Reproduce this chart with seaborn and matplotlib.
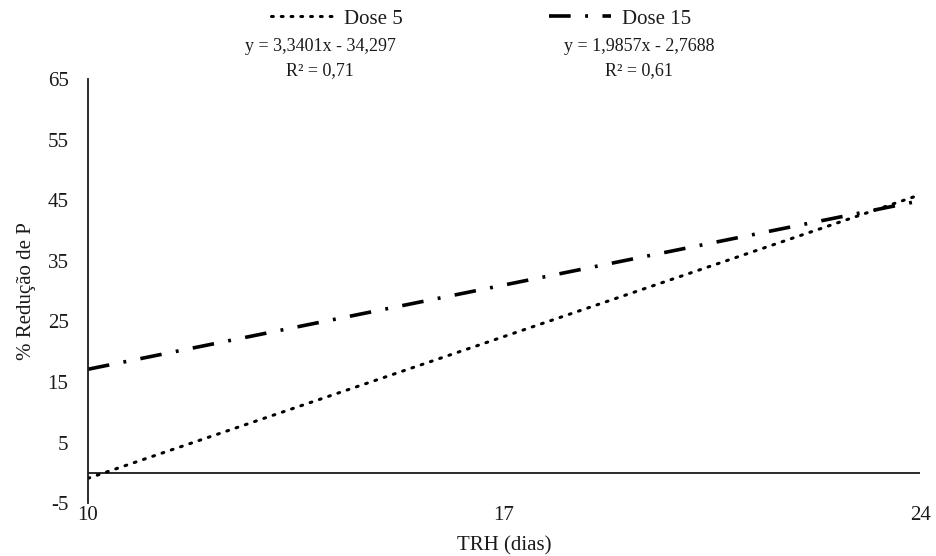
import matplotlib
matplotlib.use("Agg")
import matplotlib.pyplot as plt
import seaborn as sns
import pandas as pd

# dados (linhas de tendência)
trh = [10, 24]
dose5 = [-0.9, 45.9]
dose15 = [17.1, 44.9]
eq5 = "y = 3,3401x - 34,297\nR² = 0,71"
eq15 = "y = 1,9857x - 2,7688\nR² = 0,61"
yticks = [-5, 5, 15, 25, 35, 45, 55, 65]
xticks = [10, 17, 24]

sns.set_theme(style="white")
plt.rcParams['font.family'] = ['Liberation Serif', 'DejaVu Serif']
plt.rcParams['axes.unicode_minus'] = False
ink = "#1a1a1a"

df = pd.DataFrame({"TRH": trh * 2,
                   "red": dose5 + dose15,
                   "dose": ["Dose 5"] * 2 + ["Dose 15"] * 2})

fig, ax = plt.subplots(figsize=(9.36, 5.56), dpi=100)
fig.subplots_adjust(left=0.094, right=0.983, top=0.858, bottom=0.095)

sns.lineplot(data=df[df.dose == "Dose 5"], x="TRH", y="red", ax=ax,
             color="black", lw=2.2, label="Dose 5", legend=False)
sns.lineplot(data=df[df.dose == "Dose 15"], x="TRH", y="red", ax=ax,
             color="black", lw=2.6, label="Dose 15", legend=False)
ax.lines[0].set_linestyle((0, (0.6, 2.6)))
ax.lines[0].set_dash_capstyle("round")
ax.lines[1].set_linestyle((0, (6, 4, 0.8, 4)))

ax.axhline(0, color=ink, lw=1.3, zorder=1)
ax.set_xlim(10, 24)
ax.set_ylim(-5, 65)
ax.set_xticks(xticks)
ax.set_yticks(yticks)
for s in ["top", "right", "bottom"]:
    ax.spines[s].set_visible(False)
ax.spines["left"].set_color(ink)
ax.spines["left"].set_linewidth(1.3)
ax.tick_params(axis="both", length=0, labelsize=15, colors=ink)
ax.tick_params(axis="y", pad=14)
ax.tick_params(axis="x", pad=2)
ax.set_xlabel("TRH (dias)", fontsize=15, color=ink, labelpad=8)
ax.set_ylabel("% Redução de P", fontsize=15, color=ink, labelpad=8)

fig.legend(handles=ax.lines[:2], labels=["Dose 5", "Dose 15"],
           loc="center", bbox_to_anchor=(0.514, 0.966), ncol=2, frameon=False,
           fontsize=15, handlelength=3.0, columnspacing=7.0, handletextpad=0.5,
           labelcolor=ink, borderaxespad=0, borderpad=0)
fig.text(0.342, 0.895, eq5, ha="center", va="center", fontsize=13, color=ink,
         linespacing=1.5)
fig.text(0.683, 0.895, eq15, ha="center", va="center", fontsize=13, color=ink,
         linespacing=1.5)

fig.savefig("out.png", dpi=100)
